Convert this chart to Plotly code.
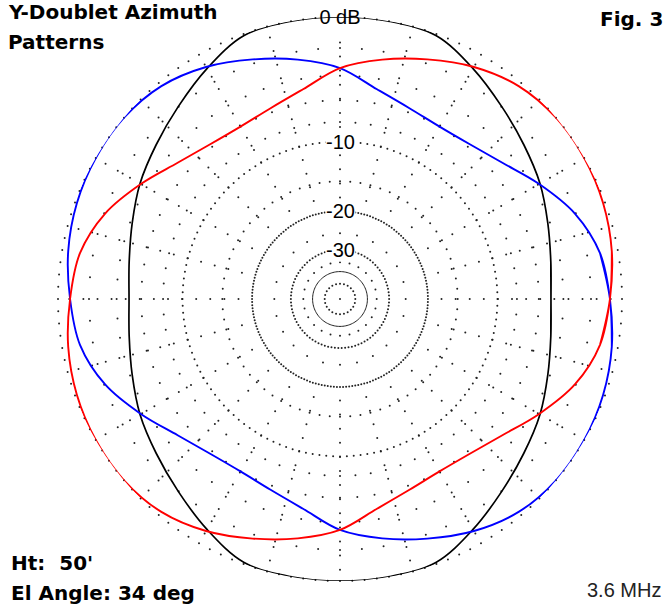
import numpy as np
import plotly.graph_objects as go

# ---------------- data ----------------
# azimuth angle in degrees (0 = right, counter-clockwise), gain in dB
angles = [0, 10, 20, 30, 40, 50, 60, 70, 80, 90, 100, 110, 120, 130, 140, 150, 160, 170,
          180, 190, 200, 210, 220, 230, 240, 250, 260, 270, 280, 290, 300, 310, 320, 330, 340, 350]

black_db = [-4.98, -4.73, -4.17, -3.43, -2.77, -1.97, -1.00, -0.10, 0.00, 0.00, 0.00, -0.10,
            -1.00, -1.97, -2.77, -3.43, -4.17, -4.73,
            -4.98, -4.73, -4.17, -3.43, -2.77, -1.97, -1.00, -0.10, 0.00, 0.00, 0.00, -0.10,
            -1.00, -1.97, -2.77, -3.43, -4.17, -4.73]

blue_db = [-0.75, -1.13, -2.07, -3.50, -4.90, -5.73, -5.98, -5.64, -4.82, -3.43, -2.55, -1.73,
           -0.88, -0.25, 0.00, 0.00, -0.12, -0.37,
           -0.75, -1.13, -2.07, -3.50, -4.90, -5.73, -5.98, -5.64, -4.82, -3.43, -2.55, -1.73,
           -0.88, -0.25, 0.00, 0.00, -0.12, -0.37]

red_db = [-0.75, -0.37, -0.12, 0.00, 0.00, -0.25, -0.88, -1.73, -2.55, -3.43, -4.82, -5.64,
          -5.98, -5.73, -4.90, -3.50, -2.07, -1.13,
          -0.75, -0.37, -0.12, 0.00, 0.00, -0.25, -0.88, -1.73, -2.55, -3.43, -4.82, -5.64,
          -5.98, -5.73, -4.90, -3.50, -2.07, -1.13]

ring_labels = {0: "0 dB", -10: "-10", -20: "-20", -30: "-30"}

title_lines = ["Y-Doublet Azimuth", "Patterns"]
fig_label = "Fig. 3"
info_lines = ["Ht:\u00a0 50'", "El Angle: 34 deg"]
freq_label = "3.6 MHz"

# ---------------- helpers ----------------
def arrl(db):
    """ARRL log scale: radius shrinks by 0.89 every 2 dB."""
    return 0.89 ** (-np.asarray(db, dtype=float) / 2.0)

W, H = 667, 606
CX, CY, R = 340, 299, 282

def to_paper(f, th_deg):
    px = CX + R * f * np.cos(np.radians(th_deg))
    py = CY - R * f * np.sin(np.radians(th_deg))
    return px / W, 1 - py / H

fig = go.Figure()

# ---------------- grid of dots ----------------
dot_r, dot_t = [], []
ring_specs = [(0, 2.5), (-2, 5), (-4, 5), (-6, 5), (-8, 5), (-10, 2.5), (-15, 5),
              (-20, 2), (-25, 15), (-30, 4), (-35, 15), (-50, 15)]
for db, step in ring_specs:
    f = float(arrl(db))
    for t in np.arange(0, 360, step):
        if db == 0 and abs(t - 90) < 5:
            continue
        dot_r.append(f)
        dot_t.append(t)
# radial dotted spokes
for t in np.arange(0, 360, 15):
    for f in np.arange(0.36, 0.99, 0.05):
        if abs(t - 90) < 1 and f > 0.93:
            continue
        dot_r.append(f)
        dot_t.append(t)
dot_r.append(0.0)
dot_t.append(0.0)
fig.add_trace(go.Scatterpolar(r=dot_r, theta=dot_t, mode="markers",
                              marker=dict(size=2, color="#222"), hoverinfo="skip",
                              showlegend=False))
# near-solid -40 dB ring
t40 = np.arange(0, 361, 3)
fig.add_trace(go.Scatterpolar(r=[float(arrl(-40))] * len(t40), theta=t40, mode="lines",
                              line=dict(color="#222", width=1.0), hoverinfo="skip",
                              showlegend=False))

# 0 dB label (drawn under the curves)
fig.add_trace(go.Scatterpolar(r=[0.993], theta=[90], mode="text", text=[ring_labels[0]],
                              textfont=dict(family="Liberation Sans, Arial", size=20, color="#000"),
                              textposition="middle center", hoverinfo="skip", showlegend=False))

# ---------------- pattern curves ----------------
def wrap(vals, ang=False):
    vals = list(vals)
    if ang:
        return [vals[-1] - 360] + vals + [vals[0] + 360, vals[1] + 360]
    return [vals[-1]] + vals + [vals[0], vals[1]]

for db, col, w in [(black_db, "#000000", 1.7), (blue_db, "#0000FF", 1.9), (red_db, "#FF0000", 1.9)]:
    fig.add_trace(go.Scatterpolar(r=wrap(arrl(db)), theta=wrap(angles, ang=True), mode="lines",
                                  line=dict(color=col, width=w, shape="spline", smoothing=1.0),
                                  hoverinfo="skip", showlegend=False))

# ---------------- layout ----------------
fig.update_layout(
    width=W, height=H,
    margin=dict(l=0, r=0, t=0, b=0),
    paper_bgcolor="white",
    showlegend=False,
    polar=dict(
        domain=dict(x=[(CX - R) / W, (CX + R) / W], y=[1 - (CY + R) / H, 1 - (CY - R) / H]),
        bgcolor="rgba(0,0,0,0)",
        radialaxis=dict(range=[0, 1], visible=False, showgrid=False, showline=False,
                        showticklabels=False, ticks=""),
        angularaxis=dict(visible=False, showgrid=False, showline=False, showticklabels=False,
                         ticks="", rotation=0, direction="counterclockwise"),
    ),
)

ann = []
for db in (-10, -20, -30):
    x, y = to_paper(float(arrl(db)), 90)
    ann.append(dict(x=x, y=y, xref="paper", yref="paper", text=ring_labels[db], showarrow=False,
                    xanchor="center", yanchor="middle", bgcolor="white", borderpad=0,
                    font=dict(family="Liberation Sans, Arial", size=20, color="#000")))

bold = dict(family="DejaVu Sans", size=20, color="#000")
ann.append(dict(x=6 / W, y=1 - 12.5 / H, xref="paper", yref="paper", text="<b>%s</b>" % title_lines[0],
                showarrow=False, xanchor="left", yanchor="middle", font=bold))
ann.append(dict(x=6 / W, y=1 - 41.5 / H, xref="paper", yref="paper", text="<b>%s</b>" % title_lines[1],
                showarrow=False, xanchor="left", yanchor="middle", font=bold))
ann.append(dict(x=665 / W, y=1 - 19 / H, xref="paper", yref="paper", text="<b>%s</b>" % fig_label,
                showarrow=False, xanchor="right", yanchor="middle", font=bold))
ann.append(dict(x=9 / W, y=1 - 562.5 / H, xref="paper", yref="paper", text="<b>%s</b>" % info_lines[0],
                showarrow=False, xanchor="left", yanchor="middle", font=bold))
ann.append(dict(x=9 / W, y=1 - 593 / H, xref="paper", yref="paper", text="<b>%s</b>" % info_lines[1],
                showarrow=False, xanchor="left", yanchor="middle", font=bold))
ann.append(dict(x=585 / W, y=1 - 589.5 / H, xref="paper", yref="paper", text=freq_label,
                showarrow=False, xanchor="left", yanchor="middle",
                font=dict(family="Liberation Sans, Arial", size=20, color="#222")))
fig.update_layout(annotations=ann)

fig.write_html("out.html", config={"displayModeBar": False},
               post_script="document.body.style.margin='0';document.body.style.overflow='hidden';")
